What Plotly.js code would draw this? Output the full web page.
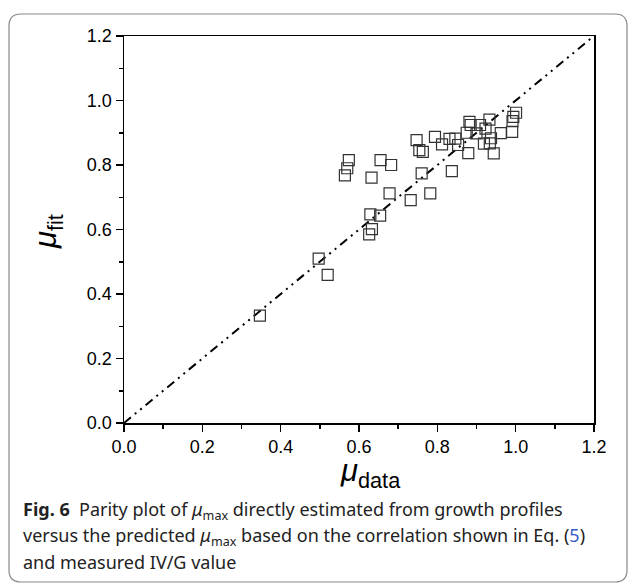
<!DOCTYPE html>
<html>
<head>
<meta charset="utf-8">
<script src="https://cdn.plot.ly/plotly-3.0.1.min.js"></script>
<style>html,body{margin:0;padding:0;background:#fff;}#chart{width:629px;height:588px;}</style>
</head>
<body>
<div id="chart"></div>
<script>
// Data
const muData = [0.347, 0.497, 0.520, 0.574, 0.570, 0.564, 0.655, 0.682, 0.632, 0.678,
  0.732, 0.782, 0.760, 0.837, 0.629, 0.654, 0.633, 0.626, 0.747, 0.754,
  0.763, 0.794, 0.812, 0.831, 0.846, 0.853, 0.879, 0.875, 0.882, 0.885,
  0.900, 0.909, 0.923, 0.933, 0.919, 0.934, 0.944, 0.937, 0.962, 0.991,
  0.992, 1.001, 0.994];
const muFit = [0.333, 0.510, 0.459, 0.815, 0.790, 0.768, 0.815, 0.800, 0.761, 0.712,
  0.691, 0.712, 0.774, 0.781, 0.647, 0.643, 0.601, 0.585, 0.877, 0.846,
  0.841, 0.887, 0.864, 0.881, 0.882, 0.862, 0.837, 0.900, 0.934, 0.924,
  0.898, 0.924, 0.913, 0.941, 0.866, 0.867, 0.836, 0.883, 0.899, 0.903,
  0.936, 0.962, 0.949];
const parityX = [0, 1.2];
const parityY = [0, 1.2];
const tickVals = [0, 0.2, 0.4, 0.6, 0.8, 1.0, 1.2];
const tickText = ["0.0", "0.2", "0.4", "0.6", "0.8", "1.0", "1.2"];
const captionLines = [
  "<b>Fig. 6</b>  Parity plot of <i>μ</i><sub>max</sub> directly estimated from growth profiles",
  "versus the predicted <i>μ</i><sub>max</sub> based on the correlation shown in Eq. (<span style='color:#3a5bc7'>5</span>)",
  "and measured IV/G value"
];

const L = 124, R = 594, T = 36, B = 423;
const px = v => (v - L) / (R - L);
const py = v => (B - v) / (B - T);

const traces = [
  {x: parityX, y: parityY, mode: 'lines', type: 'scatter', hoverinfo: 'skip',
   line: {color: '#000', width: 2, dash: '9px,5px,2px,5px,2px,5px'}},
  {x: muData, y: muFit, mode: 'markers', type: 'scatter',
   marker: {symbol: 'square-open', size: 11, color: '#333', line: {width: 1.2, color: '#333'}}}
];

// rounded border path
const bx0 = 9, bx1 = 627, by0 = 14, by1 = 582, r = 12;
const P = (x, y) => px(x) + ',' + py(y);
const path = 'M' + P(bx0 + r, by0) + ' L' + P(bx1 - r, by0) + ' Q' + P(bx1, by0) + ' ' + P(bx1, by0 + r) +
  ' L' + P(bx1, by1 - r) + ' Q' + P(bx1, by1) + ' ' + P(bx1 - r, by1) +
  ' L' + P(bx0 + r, by1) + ' Q' + P(bx0, by1) + ' ' + P(bx0, by1 - r) +
  ' L' + P(bx0, by0 + r) + ' Q' + P(bx0, by0) + ' ' + P(bx0 + r, by0) + ' Z';

const axisCommon = {
  range: [0, 1.2], tickvals: tickVals, ticktext: tickText, ticks: 'outside', ticklen: 7, tickwidth: 1.5,
  tickcolor: '#000', showline: true, linecolor: '#000', linewidth: 1.5, mirror: true,
  showgrid: false, zeroline: false, fixedrange: true,
  tickfont: {family: 'Liberation Sans, Arial, sans-serif', size: 18, color: '#000'},
  minor: {dtick: 0.1, ticks: 'outside', ticklen: 4, tickwidth: 1.5, tickcolor: '#000', showgrid: false}
};

const annotations = captionLines.map((t, i) => ({
  text: t, xref: 'paper', yref: 'paper', x: px(21), y: py(510 + i * 26), xanchor: 'left', yanchor: 'middle',
  showarrow: false, font: {family: 'Noto Sans, sans-serif', size: 18, color: '#222'}
}));
annotations.push({
  text: '<i>μ</i><sub>data</sub>', xref: 'paper', yref: 'paper', x: px(370), y: py(473), xanchor: 'center', yanchor: 'middle',
  showarrow: false, font: {family: 'Liberation Sans, Arial, sans-serif', size: 31, color: '#000'}
});
annotations.push({
  text: '<i>μ</i><sub>fit</sub>', xref: 'paper', yref: 'paper', x: px(48), y: py(232), xanchor: 'center', yanchor: 'middle',
  textangle: -90, showarrow: false, font: {family: 'Liberation Sans, Arial, sans-serif', size: 31, color: '#000'}
});

const layout = {
  width: 629, height: 588, showlegend: false,
  margin: {l: L, r: 629 - R, t: T, b: 588 - B, pad: 0},
  paper_bgcolor: '#fff', plot_bgcolor: '#fff',
  xaxis: Object.assign({}, axisCommon),
  yaxis: Object.assign({}, axisCommon),
  shapes: [{type: 'path', xref: 'paper', yref: 'paper', path: path, line: {color: '#888', width: 1.2}, layer: 'below'}],
  annotations: annotations
};

Plotly.newPlot('chart', traces, layout, {displayModeBar: false, staticPlot: true});
</script>
</body>
</html>
